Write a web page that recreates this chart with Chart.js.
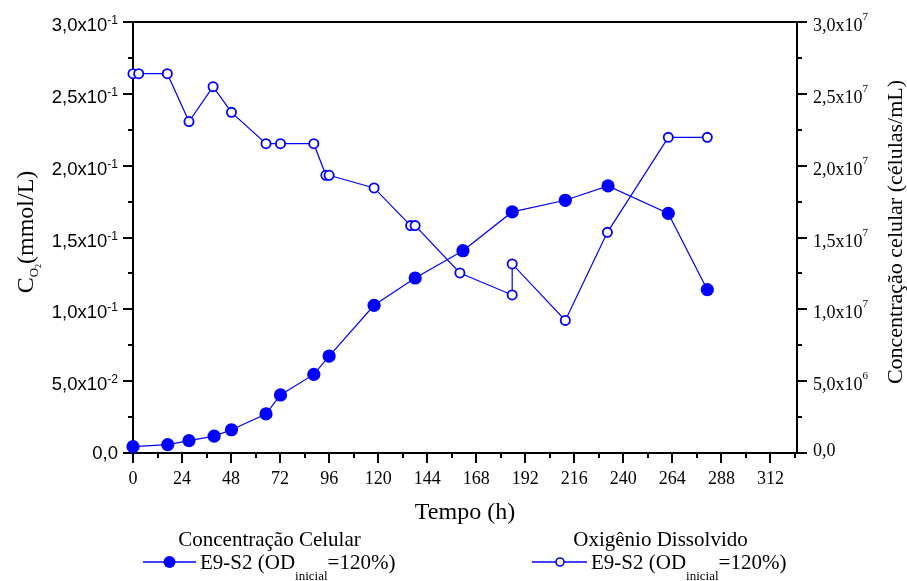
<!DOCTYPE html>
<html>
<head>
<meta charset="utf-8">
<script src="https://cdn.jsdelivr.net/npm/chart.js@4.4.0/dist/chart.umd.min.js"></script>
<style>
  body { margin: 0; background: #fff; }
</style>
</head>
<body>
<canvas id="grafico" width="907" height="581"></canvas>
<script>
// dados (tempo em horas)
const tempoCel = [0, 17, 27.4, 39.7, 48.2, 65.1, 72.2, 88.5, 96, 118, 138.1, 161.5, 185.6, 211.6, 232.5, 262, 281.1];
const celulas = [4.4e5, 5.8e5, 8.6e5, 1.18e6, 1.62e6, 2.72e6, 4.04e6, 5.47e6, 6.75e6, 1.028e7, 1.218e7, 1.408e7, 1.678e7, 1.759e7, 1.859e7, 1.668e7, 1.137e7];

const tempoOD = [0, 2.8, 16.8, 27.4, 39.2, 48.2, 65.1, 72.2, 88.5, 94.4, 96, 118, 135.9, 138.1, 160, 185.6, 185.6, 211.6, 232.2, 262, 281.1];
const oxigenio = [0.264, 0.264, 0.264, 0.2307, 0.255, 0.2371, 0.2153, 0.2153, 0.2153, 0.1933, 0.1933, 0.1845, 0.1583, 0.1583, 0.1253, 0.110, 0.1316, 0.0923, 0.1536, 0.2197, 0.2197];

// rótulos dos eixos: [mantissa, expoente]
const rotulosX = ['0', '24', '48', '72', '96', '120', '144', '168', '192', '216', '240', '264', '288', '312'];
const rotulosEsq = [['0,0', ''], ['5,0x10', '-2'], ['1,0x10', '-1'], ['1,5x10', '-1'], ['2,0x10', '-1'], ['2,5x10', '-1'], ['3,0x10', '-1']];
const rotulosDir = [['0,0', ''], ['5,0x10', '6'], ['1,0x10', '7'], ['1,5x10', '7'], ['2,0x10', '7'], ['2,5x10', '7'], ['3,0x10', '7']];

const AZUL = '#0000ff';
const SERIF = '"Liberation Serif", "Times New Roman", serif';
const SANS = '"Liberation Sans", Arial, sans-serif';

// escreve um texto com partes de tamanhos/deslocamentos diferentes
// partes: [texto, tamanho, deslocY, fonte]
function textoRico(ctx, partes, x, y, alinha) {
  let larg = 0;
  partes.forEach(p => {
    ctx.font = p[1] + 'px ' + p[3];
    larg += ctx.measureText(p[0]).width;
  });
  let x0 = x;
  if (alinha === 'right') x0 = x - larg;
  if (alinha === 'center') x0 = x - larg / 2;
  ctx.textAlign = 'left';
  ctx.textBaseline = 'alphabetic';
  partes.forEach(p => {
    ctx.font = p[1] + 'px ' + p[3];
    ctx.fillText(p[0], x0, y + p[2]);
    x0 += ctx.measureText(p[0]).width;
  });
}

// moldura, marcas principais e secundárias
const moldura = {
  id: 'moldura',
  beforeDatasetsDraw(chart) {
    const ctx = chart.ctx;
    const a = chart.chartArea;
    const sx = chart.scales.x, sy = chart.scales.y, sy2 = chart.scales.y2;
    ctx.save();
    ctx.strokeStyle = '#000';
    ctx.lineWidth = 2;
    ctx.beginPath();
    ctx.rect(a.left, a.top, a.right - a.left, a.bottom - a.top);
    ctx.stroke();

    ctx.beginPath();
    sx.ticks.forEach((t, i) => {
      const px = Math.round(sx.getPixelForValue(t.value));
      ctx.moveTo(px, a.bottom); ctx.lineTo(px, a.bottom + 10);
      if (i < sx.ticks.length - 1) {
        const pm = Math.round(sx.getPixelForValue((t.value + sx.ticks[i + 1].value) / 2));
        ctx.moveTo(pm, a.bottom); ctx.lineTo(pm, a.bottom + 5);
      }
    });
    // última marca secundária depois de 312
    const pUlt = Math.round(sx.getPixelForValue(324));
    ctx.moveTo(pUlt, a.bottom); ctx.lineTo(pUlt, a.bottom + 5);

    [[sy, a.left, -1], [sy2, a.right, 1]].forEach(([s, xb, d]) => {
      s.ticks.forEach((t, i) => {
        const py = Math.round(s.getPixelForValue(t.value));
        ctx.moveTo(xb, py); ctx.lineTo(xb + d * 10, py);
        if (i < s.ticks.length - 1) {
          const pm = Math.round(s.getPixelForValue((t.value + s.ticks[i + 1].value) / 2));
          ctx.moveTo(xb, pm); ctx.lineTo(xb + d * 5, pm);
        }
      });
    });
    ctx.stroke();
    ctx.restore();
  },
  afterDraw(chart) {
    const ctx = chart.ctx;
    const a = chart.chartArea;
    const sx = chart.scales.x, sy = chart.scales.y, sy2 = chart.scales.y2;
    ctx.save();
    ctx.fillStyle = '#000';

    // rótulos do eixo x
    sx.ticks.forEach((t, i) => {
      textoRico(ctx, [[rotulosX[i], 18, 0, SERIF]], sx.getPixelForValue(t.value), a.bottom + 31, 'center');
    });
    // eixo esquerdo
    sy.ticks.forEach((t, i) => {
      const py = sy.getPixelForValue(t.value);
      const r = rotulosEsq[i];
      if (r[1] === '') textoRico(ctx, [[r[0], 18.5, 0, SANS]], a.left - 15, py + 6, 'right');
      else textoRico(ctx, [[r[0], 18.5, 0, SANS], [r[1], 12, -7, SANS]], a.left - 15, py + 9, 'right');
    });
    // eixo direito
    sy2.ticks.forEach((t, i) => {
      const py = sy2.getPixelForValue(t.value);
      const r = rotulosDir[i];
      if (r[1] === '') textoRico(ctx, [[r[0], 18, 0, SERIF]], a.right + 16, py + 3, 'left');
      else textoRico(ctx, [[r[0], 18, 0, SERIF], [r[1], 11, -11, SERIF]], a.right + 16, py + 9, 'left');
    });

    // títulos
    textoRico(ctx, [['Tempo (h)', 24, 0, SERIF]], (a.left + a.right) / 2, 519, 'center');

    ctx.save();
    ctx.translate(33, 232);
    ctx.rotate(-Math.PI / 2);
    textoRico(ctx, [['C', 24, 0, SERIF], ['O', 13, 5, SERIF], ['2', 8, 8, SERIF], ['(mmol/L)', 24, 0, SERIF]], 0, 0, 'center');
    ctx.restore();

    ctx.save();
    ctx.translate(902, 232);
    ctx.rotate(-Math.PI / 2);
    textoRico(ctx, [['Concentração celular (células/mL)', 22, 0, SERIF]], 0, 0, 'center');
    ctx.restore();

    // legenda em duas colunas
    const itens = [
      { titulo: 'Concentração Celular', cx: 269.5, l0: 143, l1: 196, mx: 169.5, tx: 200, ds: chart.data.datasets[1] },
      { titulo: 'Oxigênio Dissolvido', cx: 660.5, l0: 532, l1: 587, mx: 560, tx: 591, ds: chart.data.datasets[0] }
    ];
    itens.forEach(it => {
      ctx.fillStyle = '#000';
      textoRico(ctx, [[it.titulo, 21, 0, SERIF]], it.cx, 545.5, 'center');
      ctx.strokeStyle = AZUL;
      ctx.lineWidth = 1.3;
      ctx.beginPath();
      ctx.moveTo(it.l0, 562); ctx.lineTo(it.l1, 562);
      ctx.stroke();
      const cheio = it.ds.pointBackgroundColor !== '#ffffff';
      ctx.beginPath();
      ctx.arc(it.mx, 562, cheio ? 6 : 4, 0, Math.PI * 2);
      ctx.fillStyle = it.ds.pointBackgroundColor;
      ctx.fill();
      if (!cheio) { ctx.lineWidth = 1.6; ctx.stroke(); }
      ctx.fillStyle = '#000';
      textoRico(ctx, [['E9-S2 (OD', 21, 0, SERIF], ['inicial', 13, 11, SERIF], ['=120%)', 21, 0, SERIF]], it.tx, 568.5, 'left');
    });
    ctx.restore();
  }
};

const ctx = document.getElementById('grafico').getContext('2d');
new Chart(ctx, {
  type: 'scatter',
  data: {
    datasets: [
      {
        label: 'Oxigênio Dissolvido',
        data: tempoOD.map((t, i) => ({ x: t, y: oxigenio[i] })),
        yAxisID: 'y',
        showLine: true,
        borderColor: AZUL,
        borderWidth: 1.2,
        pointRadius: 4.6,
        pointBorderWidth: 1.8,
        pointBackgroundColor: '#ffffff',
        pointBorderColor: AZUL,
        clip: false
      },
      {
        label: 'Concentração Celular',
        data: tempoCel.map((t, i) => ({ x: t, y: celulas[i] })),
        yAxisID: 'y2',
        showLine: true,
        borderColor: AZUL,
        borderWidth: 1.2,
        pointRadius: 6.6,
        pointBorderWidth: 0,
        pointBackgroundColor: AZUL,
        pointBorderColor: AZUL,
        clip: false
      }
    ]
  },
  options: {
    responsive: false,
    animation: false,
    events: [],
    layout: { padding: { top: 22, left: 0, right: 0, bottom: 0 } },
    plugins: { legend: { display: false }, tooltip: { enabled: false } },
    scales: {
      x: {
        type: 'linear', position: 'bottom', min: 0, max: 325,
        ticks: { stepSize: 24, display: false, includeBounds: false },
        grid: { display: false }, border: { display: false },
        afterFit: s => { s.height = 128; }
      },
      y: {
        type: 'linear', position: 'left', min: 0, max: 0.3,
        ticks: { stepSize: 0.05, display: false },
        grid: { display: false }, border: { display: false },
        afterFit: s => { s.width = 133; }
      },
      y2: {
        type: 'linear', position: 'right', min: 0, max: 3e7,
        ticks: { stepSize: 5e6, display: false },
        grid: { display: false }, border: { display: false },
        afterFit: s => { s.width = 110; }
      }
    }
  },
  plugins: [moldura]
});
</script>
</body>
</html>
